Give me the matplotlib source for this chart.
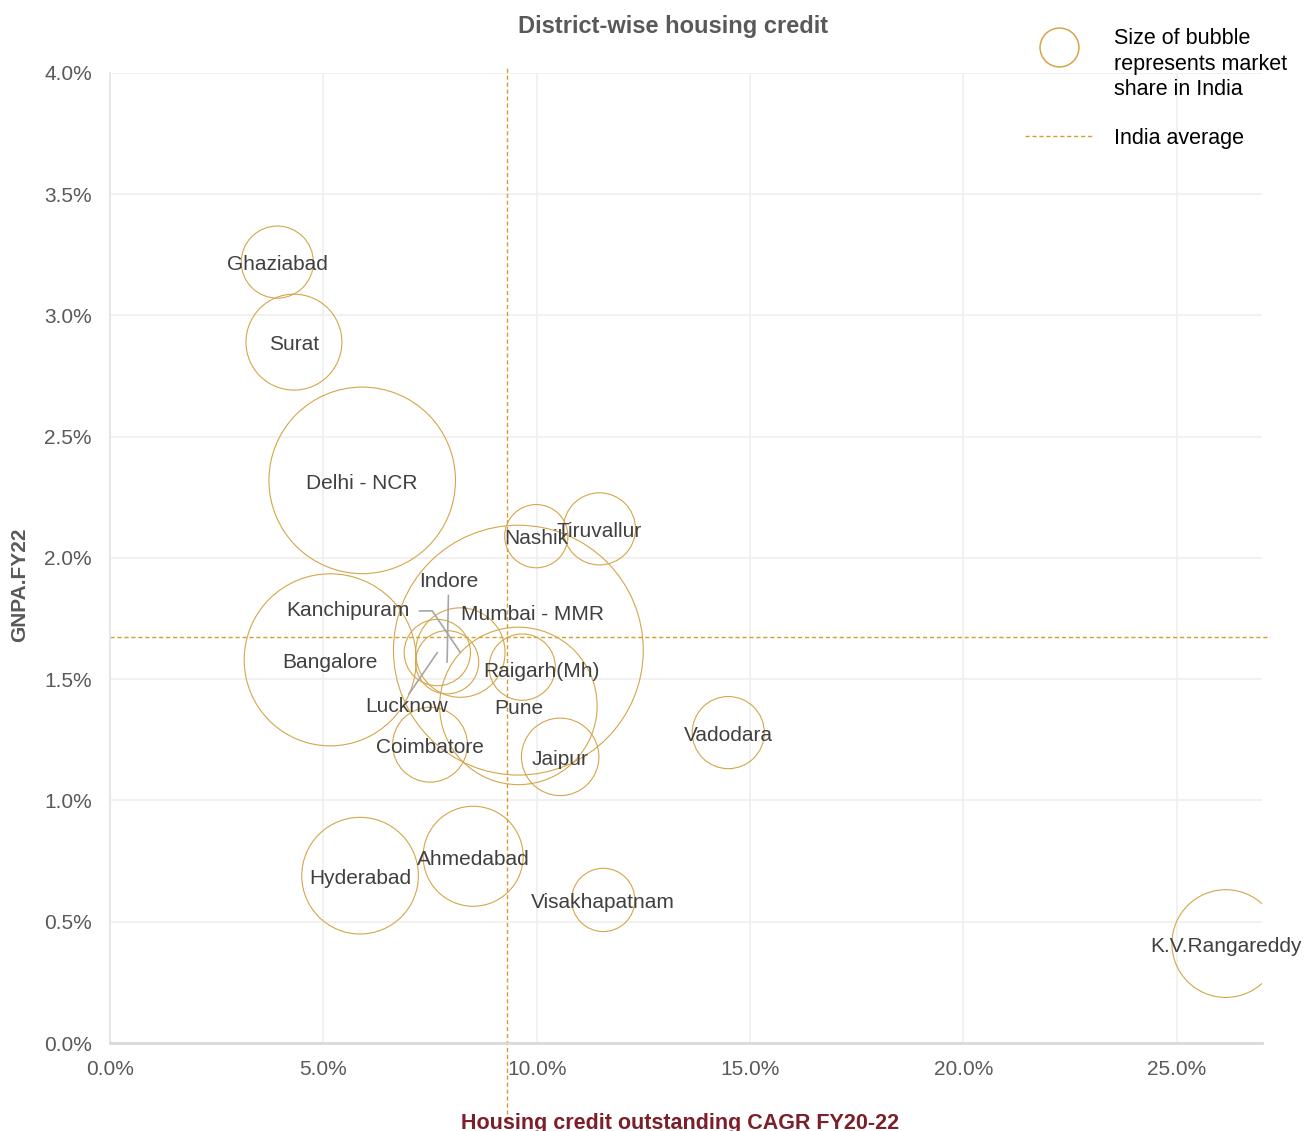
import matplotlib
matplotlib.use('Agg')
import numpy as np
import matplotlib.pyplot as plt
from matplotlib.lines import Line2D
from matplotlib.legend_handler import HandlerLine2D
from matplotlib.ticker import MultipleLocator, FuncFormatter

plt.rcParams['font.family'] = ['Liberation Sans', 'DejaVu Sans']

# --- data ---
districts = ['Ghaziabad', 'Surat', 'Delhi - NCR', 'Nashik', 'Tiruvallur',
             'Bangalore', 'Kanchipuram', 'Indore', 'Lucknow', 'Mumbai - MMR',
             'Raigarh(Mh)', 'Pune', 'Jaipur', 'Coimbatore', 'Vadodara',
             'Hyderabad', 'Ahmedabad', 'Visakhapatnam', 'K.V.Rangareddy']
cagr = [3.92, 4.31, 5.91, 9.99, 11.47,
        5.16, 8.21, 7.90, 7.67, 9.57,
        9.66, 9.57, 10.55, 7.50, 14.49,
        5.86, 8.51, 11.56, 26.15]           # housing credit CAGR FY20-22, %
gnpa = [3.22, 2.89, 2.32, 2.09, 2.12,
        1.58, 1.61, 1.57, 1.61, 1.62,
        1.55, 1.39, 1.18, 1.23, 1.28,
        0.69, 0.77, 0.59, 0.41]             # GNPA FY22, %
share = [1.3, 2.3, 8.7, 1.0, 1.3,
         7.4, 2.0, 1.0, 1.1, 15.6,
         1.1, 6.2, 1.5, 1.4, 1.3,
         3.4, 2.5, 1.0, 2.9]                # market share (bubble size)

india_avg_cagr = 9.31
india_avg_gnpa = 1.674

# label offsets in points; labels not listed sit just below the centre
label_offset = {
    'Mumbai - MMR': (10, 26),
    'Raigarh(Mh)': (14, -3),
    'Kanchipuram': (-81, 30),
    'Indore': (1, 58),
    'Lucknow': (-22, -39),
}
leader = {
    'Kanchipuram': dict(relpos=(1.0, 0.5), shrinkA=5,
                        connectionstyle='angle,angleA=0,angleB=-56,rad=0'),
    'Indore': dict(relpos=(0.5, 0.0), shrinkA=1, connectionstyle='arc3'),
    'Lucknow': dict(relpos=(0.5, 1.0), shrinkA=0, connectionstyle='arc3'),
}

gold = '#D4A64A'
avg_col = '#D69E2E'
grey_txt = '#595959'


class RaisedHandler(HandlerLine2D):
    # legend circle sits level with the first text lines, not the middle
    def __init__(self, shift, **kw):
        super().__init__(**kw)
        self.shift = shift

    def create_artists(self, *args, **kwargs):
        arts = super().create_artists(*args, **kwargs)
        for a in arts:
            a.set_ydata(np.asarray(a.get_ydata()) + self.shift)
        return arts


fig = plt.figure(figsize=(13.07, 11.31), dpi=100)
ax = fig.add_axes([0.0842, 0.0778, 0.8814, 0.8577])

ax.scatter(cagr, gnpa, s=[v * 2074 for v in share], facecolors='none',
           edgecolors=gold, linewidths=0.8, zorder=3)

for name, x, y in zip(districts, cagr, gnpa):
    off = label_offset.get(name, (0, -2))
    kw = {}
    if name in leader:
        kw['arrowprops'] = dict(arrowstyle='-', color='#a6a6a6', lw=1.2,
                                shrinkB=0, **leader[name])
    ax.annotate(name, (x, y), xytext=off, textcoords='offset points',
                ha='center', va='center', fontsize=15, color='#404040',
                zorder=5, annotation_clip=False, **kw)

# India average lines
ax.axvline(india_avg_cagr, ymin=-0.08, ymax=1.006, color=avg_col, lw=1,
           ls=(0, (3, 2)), clip_on=False, zorder=2)
ax.axhline(india_avg_gnpa, xmin=0, xmax=1.007, color=avg_col, lw=1,
           ls=(0, (3, 2)), clip_on=False, zorder=2)

ax.set_xlim(0, 27)
ax.set_ylim(0, 4)
ax.xaxis.set_major_locator(MultipleLocator(5))
ax.yaxis.set_major_locator(MultipleLocator(0.5))
ax.xaxis.set_major_formatter(FuncFormatter(lambda v, p: f'{v:.1f}%'))
ax.yaxis.set_major_formatter(FuncFormatter(lambda v, p: f'{v:.1f}%'))
ax.tick_params(length=0, labelsize=15, labelcolor=grey_txt)
ax.tick_params(axis='x', pad=12)
ax.tick_params(axis='y', pad=13)
ax.grid(color='#efefef', lw=1.2)
ax.set_axisbelow(True)
for side in ['top', 'right']:
    ax.spines[side].set_visible(False)
ax.spines['bottom'].set_color('#d9d9d9')
ax.spines['bottom'].set_linewidth(2)
ax.spines['left'].set_color('#e3e3e3')
ax.spines['left'].set_linewidth(1.2)

fig.text(0.515, 0.977, 'District-wise housing credit', ha='center', va='center',
         fontsize=17, fontweight='bold', color=grey_txt)
fig.text(0.52, 0.007, 'Housing credit outstanding CAGR FY20-22', ha='center',
         va='center', fontsize=15.5, fontweight='bold', color='#7B1F2A')
fig.text(0.0153, 0.483, 'GNPA.FY22', ha='center', va='center', rotation=90,
         fontsize=15, fontweight='bold', color=grey_txt)

bubble_key = Line2D([], [], marker='o', markersize=28, markerfacecolor='none',
                    markeredgecolor=gold, markeredgewidth=1.1, ls='none')
avg_key = Line2D([], [], color=avg_col, lw=1, ls=(0, (3, 2)))
leg = fig.legend([bubble_key, avg_key],
                 ['Size of bubble\nrepresents market\nshare in India', 'India average'],
                 loc='upper left', bbox_to_anchor=(0.784, 0.975),
                 frameon=False, fontsize=15.5, handlelength=3.2, handletextpad=0.95,
                 labelspacing=1.3, borderpad=0, borderaxespad=0, labelcolor='black',
                 handler_map={bubble_key: RaisedHandler(13)})
leg.get_texts()[0].set_linespacing(1.27)

fig.savefig('out.png', dpi=100)
